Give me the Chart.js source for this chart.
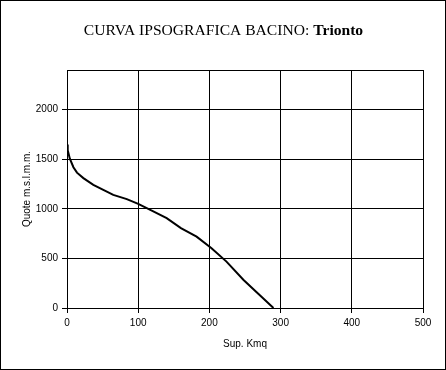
<!DOCTYPE html>
<html><head><meta charset="utf-8">
<script src="https://cdn.jsdelivr.net/npm/chart.js@4/dist/chart.umd.min.js"></script>
<style>html,body{margin:0;padding:0;background:#fff}#c{display:block}</style>
</head><body>
<canvas id="c" width="446" height="370"></canvas>
<script>
const titleMain = "CURVA IPSOGRAFICA BACINO: ";
const titleBasin = "Trionto";
const xTitle = "Sup. Kmq";
const yTitle = "Quote m.s.l.m.m.";
const area  = [0, 1, 4, 9, 14, 23, 37, 51, 65, 84, 100, 117, 140, 160, 182, 203, 224, 248, 269, 290];
const quota = [1650, 1590, 1505, 1420, 1365, 1310, 1242, 1192, 1141, 1098, 1050, 990, 906, 805, 720, 603, 468, 283, 141, 0];
const xTicks = [0, 100, 200, 300, 400, 500];
const yTicks = [0, 500, 1000, 1500, 2000];

const points = area.map((a, i) => ({x: a, y: quota[i]}));

const framePlugin = {
  id: 'frame',
  afterDraw(chart) {
    const ctx = chart.ctx, ca = chart.chartArea;
    ctx.save();
    ctx.strokeStyle = '#000';
    ctx.lineWidth = 1;
    ctx.strokeRect(Math.round(ca.left) + 0.5, Math.round(ca.top) + 0.5, Math.round(ca.right - ca.left), Math.round(ca.bottom - ca.top));
    ctx.strokeRect(0.5, 0.5, chart.width - 1, chart.height - 1);
    const f1 = '15.6px "Liberation Serif", "Times New Roman", serif';
    const f2 = 'bold 15.6px "Liberation Serif", "Times New Roman", serif';
    ctx.font = f1; const w1 = ctx.measureText(titleMain).width;
    ctx.font = f2; const w2 = ctx.measureText(titleBasin).width;
    const x0 = 223.5 - (w1 + w2) / 2, y0 = 35;
    ctx.fillStyle = '#000';
    ctx.textBaseline = 'alphabetic';
    ctx.textAlign = 'left';
    ctx.font = f1; ctx.fillText(titleMain, x0, y0);
    ctx.font = f2; ctx.fillText(titleBasin, x0 + w1, y0);
    ctx.restore();
  }
};

new Chart(document.getElementById('c'), {
  type: 'scatter',
  data: { datasets: [{ data: points, showLine: true, borderColor: '#000', borderWidth: 2, pointRadius: 0, tension: 0, fill: false }] },
  options: {
    responsive: false, animation: false,
    layout: { padding: { top: 70, right: 23, left: 0, bottom: 0 } },
    plugins: { legend: { display: false }, tooltip: { enabled: false } },
    scales: {
      x: {
        type: 'linear', min: 0, max: 500,
        afterBuildTicks: s => { s.ticks = xTicks.map(v => ({value: v})); },
        afterFit: s => { s.height = 62; },
        grid: { color: '#000', lineWidth: 1, tickLength: 5, drawTicks: true },
        border: { color: '#000' },
        ticks: { color: '#000', font: { family: '"Liberation Sans", Arial, sans-serif', size: 10 }, padding: 4, maxRotation: 0, callback: v => String(v) },
        title: { display: true, text: xTitle, color: '#000', font: { family: '"Liberation Sans", Arial, sans-serif', size: 10 }, padding: { bottom: 20 } }
      },
      y: {
        type: 'linear', min: 0, max: 2400,
        afterBuildTicks: s => { s.ticks = yTicks.map(v => ({value: v})); },
        afterFit: s => { s.width = 67; },
        grid: { color: '#000', lineWidth: 1, tickLength: 5, drawTicks: true },
        border: { color: '#000' },
        ticks: { color: '#000', font: { family: '"Liberation Sans", Arial, sans-serif', size: 10 }, padding: 4, callback: v => String(v) },
        title: { display: true, text: yTitle, color: '#000', font: { family: '"Liberation Sans", Arial, sans-serif', size: 10 }, padding: { top: 21 } }
      }
    }
  },
  plugins: [framePlugin]
});
</script>
</body></html>
